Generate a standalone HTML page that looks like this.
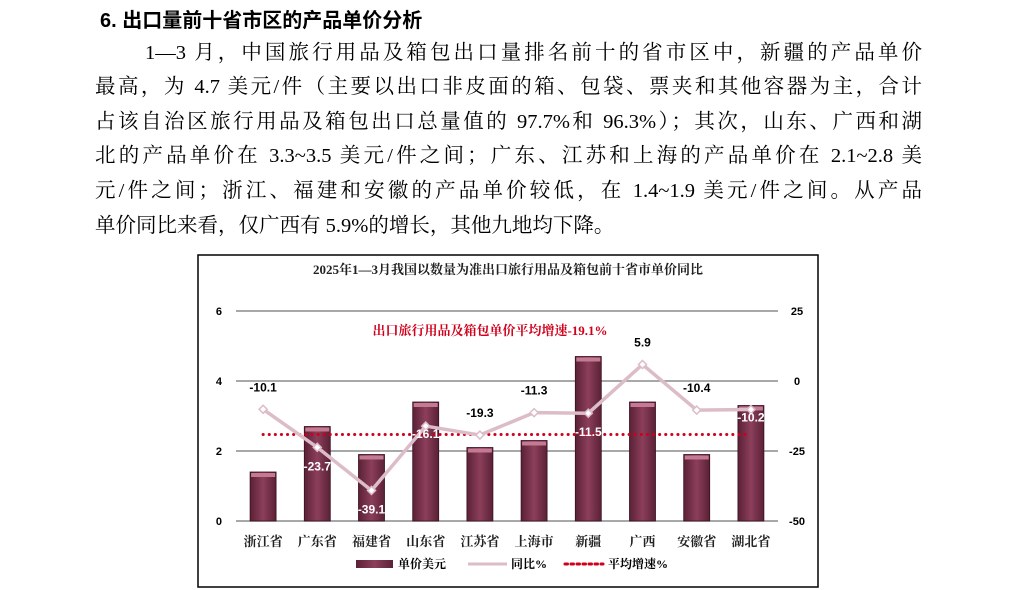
<!DOCTYPE html>
<html><head><meta charset="utf-8">
<style>
body{margin:0;width:1014px;height:590px;background:#fff;position:relative;overflow:hidden;font-family:"Liberation Serif","Noto Serif CJK SC",serif}
.h{position:absolute;left:100px;top:4px;font:bold 20px "Liberation Sans","Noto Sans CJK SC",sans-serif;color:#000}
.p div{position:absolute;left:95px;width:827px;font-size:20.5px;line-height:24px;text-align:justify;text-align-last:justify;white-space:nowrap}
.p div.last{text-align-last:left}
</style></head><body>
<div class="h">6. 出口量前十省市区的产品单价分析</div>
<div class="p">
<div style="top:41px;left:145px;width:777px">1—3 月，中国旅行用品及箱包出口量排名前十的省市区中，新疆的产品单价</div>
<div style="top:75px">最高，为 4.7 美元/件（主要以出口非皮面的箱、包袋、票夹和其他容器为主，合计</div>
<div style="top:110px">占该自治区旅行用品及箱包出口总量值的 97.7%和 96.3%）；其次，山东、广西和湖</div>
<div style="top:144px">北的产品单价在 3.3~3.5 美元/件之间；广东、江苏和上海的产品单价在 2.1~2.8 美</div>
<div style="top:179px">元/件之间；浙江、福建和安徽的产品单价较低，在 1.4~1.9 美元/件之间。从产品</div>
<div class="last" style="top:214px">单价同比来看，仅广西有 5.9%的增长，其他九地均下降。</div>
</div>
<svg id="chart" width="1014" height="590" style="position:absolute;left:0;top:0">
<defs><linearGradient id="bg" x1="0" x2="1"><stop offset="0" stop-color="#5a2136"/><stop offset="0.5" stop-color="#8c3f5a"/><stop offset="1" stop-color="#5a2136"/></linearGradient></defs>
<rect x="198" y="255" width="620" height="332" fill="#fff" stroke="#000" stroke-width="1.5"/>
<text x="508" y="274" text-anchor="middle" font-size="13" font-weight="bold" fill="#222">2025年1—3月我国以数量为准出口旅行用品及箱包前十省市单价同比</text>
<g id="grid"></g><g id="bars"></g><g id="line"></g><g id="labels"></g>
<text x="490" y="335" text-anchor="middle" font-size="13" font-weight="bold" fill="#d0001c">出口旅行用品及箱包单价平均增速-19.1%</text>
<g>
<rect x="356" y="560" width="37" height="8" fill="url(#bg)"/>
<text x="398" y="568" font-size="12" font-weight="bold">单价美元</text>
<line x1="468" y1="564" x2="507" y2="564" stroke="#dcbcc8" stroke-width="3"/>
<text x="511" y="568" font-size="12" font-weight="bold">同比%</text>
<line x1="565" y1="564" x2="603" y2="564" stroke="#d0001c" stroke-width="3" stroke-dasharray="2.5,3.5" stroke-linecap="round"/>
<text x="608" y="568" font-size="12" font-weight="bold">平均增速%</text>
</g>
</svg>
<script>
const categories=["浙江省","广东省","福建省","山东省","江苏省","上海市","新疆","广西","安徽省","湖北省"];
const prices=[1.4,2.7,1.9,3.4,2.1,2.3,4.7,3.4,1.9,3.3];
const yoy=[-10.1,-23.7,-39.1,-16.1,-19.3,-11.3,-11.5,5.9,-10.4,-10.2];
const avgGrowth=-19.1;
const leftTicks=[0,2,4,6];
const rightTicks=[-50,-25,0,25];
const NS="http://www.w3.org/2000/svg";
const X0=236,X1=778,Y0=521,Y1=311;
const yL=v=>Y0-(v-0)/(6-0)*(Y0-Y1);
const yR=v=>Y0-(v+50)/75*(Y0-Y1);
const bw=(X1-X0)/categories.length;
const xc=i=>X0+bw*(i+0.5);
function mk(tag,attrs,parent,text){const e=document.createElementNS(NS,tag);for(const k in attrs)e.setAttribute(k,attrs[k]);if(text!=null)e.textContent=text;document.getElementById(parent).appendChild(e);return e;}
leftTicks.forEach(t=>{
 const l=mk('line',{x1:X0,x2:X1,y1:yL(t),y2:yL(t),stroke:'#8c8c8c','stroke-width':1.5},'grid');
 
 
 const tx=mk('text',{x:222,y:yL(t)+4,'text-anchor':'end','font-size':11,'font-weight':'bold','font-family':'Liberation Sans'},'grid',t);
 
 
});
rightTicks.forEach(t=>{
 const tx=mk('text',{x:797,y:yR(t)+4,'text-anchor':'middle','font-size':11,'font-weight':'bold','font-family':'Liberation Sans'},'grid',t);
 
 
});
categories.forEach((c,i)=>{
 const w=26,h=Y0-yL(prices[i]);
 const r=mk('rect',{x:xc(i)-w/2,y:yL(prices[i]),width:w,height:h,fill:'url(#bg)',stroke:'#3a1020','stroke-width':0.8},'bars');
 
 
 const tp=mk('rect',{x:xc(i)-w/2+1,y:yL(prices[i])+1,width:w-2,height:4,fill:'#c47a92'},'bars');
 
 
 const t=mk('text',{x:xc(i),y:546,'text-anchor':'middle','font-size':13,'font-weight':'bold',fill:'#222'},'labels',c);
 
 
});
const avg=mk('line',{x1:xc(0),x2:xc(9),y1:yR(avgGrowth),y2:yR(avgGrowth),stroke:'#d0001c','stroke-width':3,'stroke-dasharray':'0.1,6','stroke-linecap':'round'},'line');


const pl=mk('polyline',{points:yoy.map((v,i)=>xc(i)+','+yR(v)).join(' '),fill:'none',stroke:'#dcbcc8','stroke-width':3.5},'line');


yoy.forEach((v,i)=>{
 const x=xc(i),y=yR(v);
 const m=mk('path',{d:`M${x} ${y-4}L${x+4} ${y}L${x} ${y+4}L${x-4} ${y}Z`,fill:'#fff',stroke:'#dcbcc8','stroke-width':1.5},'line');
 
 
 const inBar=[1,2,3,6,9].includes(i);
 const t=mk('text',{x:x,y:inBar?y+23:y-18,'text-anchor':'middle','font-size':12,'font-weight':'bold','font-family':'Liberation Sans',fill:inBar?'#fff':'#000'},'labels',v.toFixed(1));
 if(i===9||i===3){t.setAttribute('y',y+12);}
 
 
});
</script>
</body></html>
